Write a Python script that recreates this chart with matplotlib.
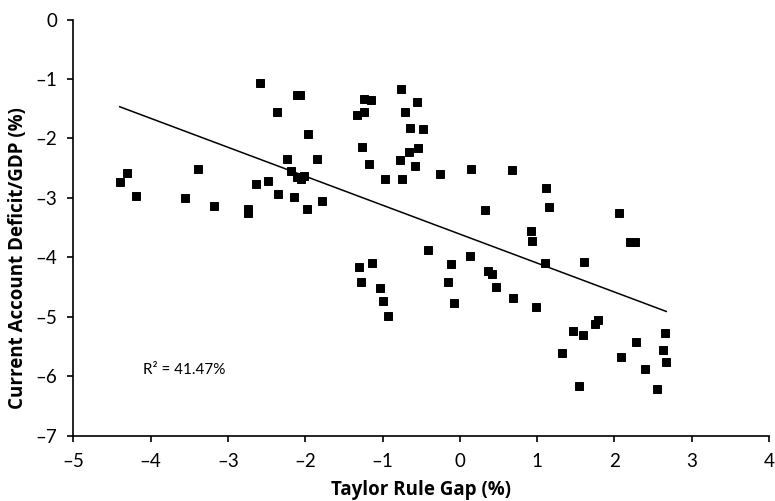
import matplotlib
matplotlib.use("Agg")
import matplotlib.pyplot as plt
import numpy as np

# Taylor Rule Gap (%)
taylor_gap = [
    -2.58, -2.11, -2.07, -2.36, -1.96, -2.23, -1.85, -2.18, -2.11, -2.01, -2.06,
    -1.78, -4.30, -4.40, -4.19, -3.39, -3.56, -3.18, -2.74, -2.74, -2.64, -2.48,
    -2.35, -2.15, -1.98,
    -1.24, -1.15, -1.33, -1.24, -0.76, -0.55, -0.71, -0.64, -0.48, -1.26, -0.54,
    -0.66, -0.78, -1.17, -0.58, -0.97, -0.75, -0.25, 0.15, 0.68, 0.32, 1.11,
    1.16, 0.92, 0.94, -0.41, 0.13,
    1.10, -1.30, -1.13, -1.28, -1.03, -0.99, -0.93, -0.11, -0.15, -0.07, 0.36,
    0.42, 0.47, 0.69, 0.99,
    1.60, 2.06, 2.20, 2.26,
    1.46, 1.59, 1.75, 1.79, 1.32, 1.54, 2.09, 2.28, 2.39, 2.55, 2.65, 2.63, 2.67,
]

# Current Account Deficit/GDP (%)
ca_deficit = [
    -1.07, -1.27, -1.27, -1.55, -1.92, -2.34, -2.35, -2.54, -2.65, -2.63, -2.68,
    -3.06, -2.58, -2.74, -2.96, -2.51, -3.01, -3.13, -3.19, -3.26, -2.77, -2.72,
    -2.94, -2.98, -3.19,
    -1.33, -1.36, -1.61, -1.56, -1.17, -1.39, -1.55, -1.83, -1.84, -2.15, -2.16,
    -2.22, -2.36, -2.43, -2.46, -2.68, -2.68, -2.59, -2.51, -2.53, -3.20, -2.84,
    -3.15, -3.56, -3.73, -3.87, -3.97,
    -4.09, -4.17, -4.09, -4.42, -4.51, -4.73, -4.98, -4.11, -4.41, -4.76, -4.23,
    -4.28, -4.50, -4.69, -4.84,
    -4.07, -3.26, -3.74, -3.74,
    -5.24, -5.31, -5.12, -5.06, -5.61, -6.16, -5.68, -5.43, -5.87, -6.21, -5.28,
    -5.56, -5.76,
]

x_ticks = [-5, -4, -3, -2, -1, 0, 1, 2, 3, 4]
y_ticks = [0, -1, -2, -3, -4, -5, -6, -7]
r2_label = "R\u00b2 = 41.47%"

plt.rcParams['font.family'] = ['Lato', 'DejaVu Sans']

fig = plt.figure(figsize=(7.75, 5.01), dpi=100)
ax = fig.add_axes([0.0946, 0.1303, 0.8977, 0.8307])

x = np.array(taylor_gap)
y = np.array(ca_deficit)
ax.plot(x, y, linestyle='none', marker='s', markersize=6, color='black',
        markeredgewidth=0.7, markeredgecolor='black', zorder=3)

slope, intercept = np.polyfit(x, y, 1)
xs = np.array([x.min(), x.max()])
ax.plot(xs, slope * xs + intercept, color='black', linewidth=1.1, zorder=2)

ax.set_xlim(-5, 4)
ax.set_ylim(-7, 0)
ax.set_xticks(x_ticks)
ax.set_yticks(y_ticks)
ax.set_xticklabels([str(v).replace('-', '\u2013') for v in x_ticks])
ax.set_yticklabels([str(v).replace('-', '\u2013') for v in y_ticks])

for s in ['top', 'right']:
    ax.spines[s].set_visible(False)
for s in ['left', 'bottom']:
    ax.spines[s].set_linewidth(1.2)
ax.tick_params(direction='out', length=4.5, width=1.2, labelsize=13.5)
ax.tick_params(axis='x', pad=8)
ax.tick_params(axis='y', pad=7)

label_font = ['Open Sans', 'DejaVu Sans']
ax.set_xlabel("Taylor Rule Gap (%)", fontsize=13.5, fontweight='bold',
              family=label_font)
ax.set_ylabel("Current Account Deficit/GDP (%)", fontsize=13.5, fontweight='bold',
              family=label_font)
ax.xaxis.set_label_coords(0.5, -0.1305)
ax.xaxis.label.set_verticalalignment('center')
ax.yaxis.set_label_coords(-0.0788, 0.428)
ax.yaxis.label.set_verticalalignment('center')

ax.text(-4.1, -5.9, r2_label, fontsize=11, ha='left', va='center')

fig.savefig("out.png", dpi=100)
